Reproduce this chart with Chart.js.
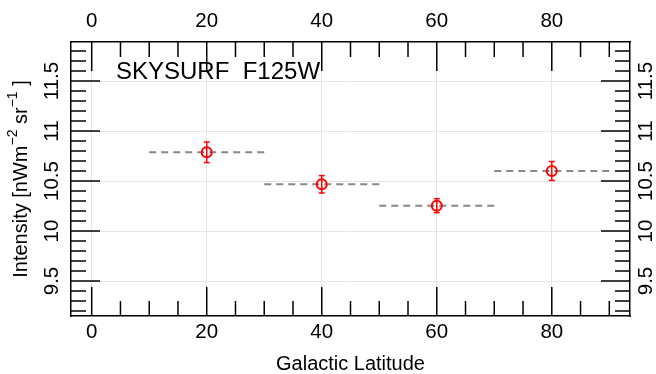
<!DOCTYPE html>
<html>
<head>
<meta charset="utf-8">
<script src="https://cdn.jsdelivr.net/npm/chart.js@4/dist/chart.umd.min.js"></script>
<style>
  body { margin: 0; background: #fff; }
</style>
</head>
<body>
<canvas id="chart" width="656" height="374"></canvas>
<script>
// SKYSURF F125W intensity vs galactic latitude
const latitude = [20, 40, 60, 80];
const intensity = [10.787, 10.467, 10.253, 10.600];
const errors = [0.103, 0.087, 0.070, 0.095];
const binStart = [10, 30, 50, 70];
const binEnd = [30, 50, 70, 90];

const xTicks = [0, 20, 40, 60, 80];
const yTicks = [9.5, 10, 10.5, 11, 11.5];
const xTickLabels = ['0', '20', '40', '60', '80'];
const yTickLabels = ['9.5', '10', '10.5', '11', '11.5'];

const xMinor = [];
for (let v = 0; v <= 90; v += 5) xMinor.push(v);
const yMinor = [];
for (let k = 92; k <= 118; k++) yMinor.push(k / 10);

const FONT = '"Liberation Sans", Arial, Helvetica, sans-serif';

function isMajor(list, v) {
    return list.some(t => Math.abs(t - v) < 1e-9);
}

function strokeLine(ctx, x1, y1, x2, y2) {
    ctx.beginPath();
    ctx.moveTo(x1, y1);
    ctx.lineTo(x2, y2);
    ctx.stroke();
}

// error bars, drawn through the scales
const errorBars = {
    id: 'errorBars',
    afterDatasetsDraw(chart) {
        const { ctx, scales: { x, y } } = chart;
        ctx.save();
        ctx.strokeStyle = '#ff0000';
        ctx.lineWidth = 1.5;
        latitude.forEach((lat, i) => {
            const px = x.getPixelForValue(lat);
            const top = y.getPixelForValue(intensity[i] + errors[i]);
            const bot = y.getPixelForValue(intensity[i] - errors[i]);
            strokeLine(ctx, px, top, px, bot);
            strokeLine(ctx, px - 3, top, px + 3, top);
            strokeLine(ctx, px - 3, bot, px + 3, bot);
        });
        ctx.restore();
    }
};

// R-style inward ticks, tick labels and titles
const axisDecor = {
    id: 'axisDecor',
    afterDraw(chart) {
        const { ctx, chartArea: a, scales: { x, y } } = chart;
        ctx.save();
        ctx.strokeStyle = '#000';
        ctx.lineWidth = 1.5;

        xMinor.forEach(v => {
            const px = x.getPixelForValue(v);
            const len = isMajor(xTicks, v) ? 29 : 15;
            strokeLine(ctx, px, a.bottom, px, a.bottom - len);
            strokeLine(ctx, px, a.top, px, a.top + len);
        });
        yMinor.forEach(v => {
            const py = y.getPixelForValue(v);
            const len = isMajor(yTicks, v) ? 29 : 15;
            strokeLine(ctx, a.left, py, a.left + len, py);
            strokeLine(ctx, a.right, py, a.right - len, py);
        });

        ctx.fillStyle = '#000';
        ctx.font = '20.5px ' + FONT;
        ctx.textAlign = 'center';
        ctx.textBaseline = 'alphabetic';
        xTicks.forEach((v, i) => {
            const px = x.getPixelForValue(v);
            ctx.fillText(xTickLabels[i], px, 27);
            ctx.fillText(xTickLabels[i], px, 338);
        });
        yTicks.forEach((v, i) => {
            const py = y.getPixelForValue(v);
            [58, 652].forEach(bx => {
                ctx.save();
                ctx.translate(bx, py);
                ctx.rotate(-Math.PI / 2);
                ctx.fillText(yTickLabels[i], 0, 0);
                ctx.restore();
            });
        });

        // x title
        ctx.font = '20px ' + FONT;
        ctx.fillText('Galactic Latitude', (a.left + a.right) / 2, 370);

        // y title with superscripts
        const parts = [
            { t: 'Intensity [nWm', sup: false },
            { t: '\u22122', sup: true },
            { t: ' sr', sup: false },
            { t: '\u22121', sup: true },
            { t: ' ]', sup: false }
        ];
        const mainFont = '20px ' + FONT;
        const supFont = '14px ' + FONT;
        let total = 0;
        parts.forEach(p => {
            ctx.font = p.sup ? supFont : mainFont;
            p.w = ctx.measureText(p.t).width;
            total += p.w;
        });
        ctx.save();
        ctx.translate(27, (a.top + a.bottom) / 2);
        ctx.rotate(-Math.PI / 2);
        ctx.textAlign = 'left';
        let cx = -total / 2;
        parts.forEach(p => {
            ctx.font = p.sup ? supFont : mainFont;
            ctx.fillText(p.t, cx, p.sup ? -10 : 0);
            cx += p.w;
        });
        ctx.restore();

        // panel label
        ctx.font = '24px ' + FONT;
        ctx.textAlign = 'left';
        ctx.fillText('SKYSURF  F125W', 116, 79);
        ctx.restore();
    }
};

const binDatasets = binStart.map((start, i) => ({
    type: 'line',
    data: [{ x: start, y: intensity[i] }, { x: binEnd[i], y: intensity[i] }],
    borderColor: '#888888',
    borderWidth: 2,
    borderDash: [7, 5],
    pointRadius: 0,
    fill: false,
    order: 2
}));

const sideAxis = (position, size) => ({
    type: 'linear',
    position: position,
    ticks: { display: false },
    grid: { display: false },
    border: { display: true, color: '#000', width: 1.5 },
    afterFit: s => {
        if (s.isHorizontal()) s.height = size; else s.width = size;
    }
});

const ctx = document.getElementById('chart').getContext('2d');
new Chart(ctx, {
    type: 'scatter',
    data: {
        datasets: [
            {
                label: 'SKYSURF F125W',
                data: latitude.map((lat, i) => ({ x: lat, y: intensity[i] })),
                pointRadius: 5,
                pointBorderWidth: 2,
                borderColor: '#ff0000',
                backgroundColor: 'rgba(0,0,0,0)',
                pointHoverRadius: 5,
                order: 1
            },
            ...binDatasets
        ]
    },
    options: {
        responsive: false,
        animation: false,
        devicePixelRatio: 1,
        layout: { padding: 0 },
        scales: {
            x: {
                type: 'linear',
                position: 'bottom',
                min: -3.6,
                max: 93.6,
                afterBuildTicks: s => { s.ticks = xTicks.map(v => ({ value: v })); },
                ticks: { display: false },
                grid: { color: '#e6e6e6', lineWidth: 1, drawTicks: false },
                border: { display: true, color: '#000', width: 1.5 },
                afterFit: s => { s.height = 58; }
            },
            x2: Object.assign(sideAxis('top', 42), { min: -3.6, max: 93.6 }),
            y: {
                type: 'linear',
                position: 'left',
                min: 9.15,
                max: 11.89,
                afterBuildTicks: s => { s.ticks = yTicks.map(v => ({ value: v })); },
                ticks: { display: false },
                grid: { color: '#e6e6e6', lineWidth: 1, drawTicks: false },
                border: { display: true, color: '#000', width: 1.5 },
                afterFit: s => { s.width = 71; }
            },
            y2: Object.assign(sideAxis('right', 26), { min: 9.15, max: 11.89 })
        },
        plugins: {
            legend: { display: false },
            tooltip: { enabled: false }
        }
    },
    plugins: [errorBars, axisDecor]
});
</script>
</body>
</html>
